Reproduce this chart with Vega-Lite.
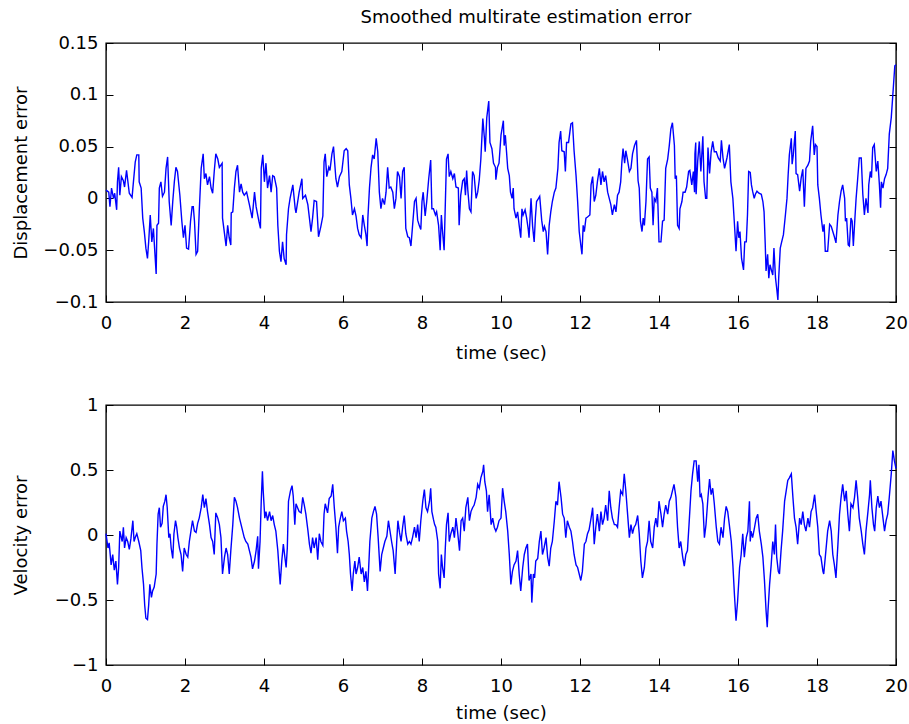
{
  "$schema": "https://vega.github.io/schema/vega-lite/v6.json",
  "background": "white",
  "padding": {"left": 11, "top": 8, "right": 4, "bottom": 4},
  "spacing": 32,
  "config": {
    "font": "DejaVu Sans",
    "view": {"stroke": "black", "strokeWidth": 1.4},
    "axis": {
      "domain": false, "grid": false, "labelFlush": false,
      "tickColor": "black", "tickSize": -7, "tickWidth": 1,
      "labelFont": "DejaVu Sans", "labelFontSize": 18, "labelColor": "black",
      "titleFont": "DejaVu Sans", "titleFontSize": 18, "titleColor": "black", "titleFontWeight": "normal"
    },
    "axisBottom": {"labelPadding": 19},
    "axisLeft": {"labelPadding": 15},
    "title": {"font": "DejaVu Sans", "fontSize": 18, "fontWeight": "normal", "color": "black"}
  },
  "datasets": {
    "disp": [
{"t":0,"v":0.008},{"t":0.07,"v":0.006},{"t":0.10,"v":-0.008},{"t":0.14,"v":0.010},{"t":0.19,"v":0.000},{"t":0.22,"v":0.005},{"t":0.27,"v":-0.011},{"t":0.29,"v":0.016},{"t":0.32,"v":0.030},{"t":0.35,"v":0.003},{"t":0.39,"v":0.021},{"t":0.44,"v":0.017},{"t":0.47,"v":0.011},{"t":0.52,"v":0.027},{"t":0.59,"v":0.005},{"t":0.66,"v":0.001},{"t":0.69,"v":0.014},{"t":0.74,"v":0.035},{"t":0.78,"v":0.042},{"t":0.83,"v":0.042},{"t":0.84,"v":0.016},{"t":0.89,"v":0.010},{"t":0.93,"v":-0.019},{"t":0.97,"v":-0.032},{"t":1.01,"v":-0.048},{"t":1.05,"v":-0.058},{"t":1.08,"v":-0.042},{"t":1.12,"v":-0.016},{"t":1.16,"v":-0.042},{"t":1.20,"v":-0.029},{"t":1.24,"v":-0.054},{"t":1.27,"v":-0.073},{"t":1.29,"v":-0.026},{"t":1.33,"v":-0.024},{"t":1.35,"v":0.010},{"t":1.39,"v":0.016},{"t":1.43,"v":0.002},{"t":1.48,"v":0.006},{"t":1.52,"v":0.029},{"t":1.56,"v":0.040},{"t":1.60,"v":-0.003},{"t":1.65,"v":-0.026},{"t":1.69,"v":-0.003},{"t":1.73,"v":0.016},{"t":1.77,"v":0.030},{"t":1.81,"v":0.026},{"t":1.87,"v":0.003},{"t":1.92,"v":-0.022},{"t":1.96,"v":-0.038},{"t":2.00,"v":-0.026},{"t":2.04,"v":-0.048},{"t":2.09,"v":-0.049},{"t":2.14,"v":-0.022},{"t":2.18,"v":-0.008},{"t":2.21,"v":-0.008},{"t":2.24,"v":-0.022},{"t":2.28,"v":-0.054},{"t":2.32,"v":-0.051},{"t":2.36,"v":-0.013},{"t":2.41,"v":0.029},{"t":2.46,"v":0.043},{"t":2.49,"v":0.019},{"t":2.53,"v":0.024},{"t":2.57,"v":0.013},{"t":2.62,"v":0.021},{"t":2.66,"v":0.010},{"t":2.70,"v":0.005},{"t":2.74,"v":0.026},{"t":2.78,"v":0.043},{"t":2.83,"v":0.038},{"t":2.87,"v":0.030},{"t":2.94,"v":0.034},{"t":2.95,"v":-0.019},{"t":3.00,"v":-0.034},{"t":3.04,"v":-0.046},{"t":3.08,"v":-0.026},{"t":3.12,"v":-0.038},{"t":3.16,"v":-0.045},{"t":3.17,"v":-0.014},{"t":3.21,"v":-0.013},{"t":3.25,"v":0.010},{"t":3.29,"v":0.026},{"t":3.33,"v":0.032},{"t":3.38,"v":0.006},{"t":3.42,"v":0.014},{"t":3.46,"v":0.006},{"t":3.50,"v":0.003},{"t":3.56,"v":0.006},{"t":3.63,"v":-0.006},{"t":3.70,"v":-0.019},{"t":3.76,"v":0.006},{"t":3.80,"v":-0.008},{"t":3.87,"v":-0.022},{"t":3.91,"v":-0.029},{"t":3.93,"v":0.029},{"t":3.97,"v":0.042},{"t":4.01,"v":0.016},{"t":4.05,"v":0.034},{"t":4.09,"v":0.010},{"t":4.14,"v":0.022},{"t":4.18,"v":0.006},{"t":4.22,"v":0.022},{"t":4.26,"v":0.021},{"t":4.32,"v":0.010},{"t":4.35,"v":-0.026},{"t":4.39,"v":-0.051},{"t":4.43,"v":-0.061},{"t":4.47,"v":-0.042},{"t":4.51,"v":-0.058},{"t":4.56,"v":-0.064},{"t":4.57,"v":-0.035},{"t":4.62,"v":-0.010},{"t":4.66,"v":0.000},{"t":4.73,"v":0.013},{"t":4.79,"v":-0.010},
{"t":4.81,"v":-0.014},{"t":4.89,"v":0.006},{"t":4.96,"v":0.019},{"t":4.98,"v":0.000},{"t":5.05,"v":0.003},{"t":5.11,"v":-0.006},{"t":5.15,"v":-0.019},{"t":5.19,"v":-0.032},{"t":5.23,"v":-0.019},{"t":5.27,"v":-0.002},{"t":5.33,"v":-0.003},{"t":5.38,"v":-0.037},{"t":5.44,"v":-0.027},{"t":5.49,"v":-0.017},{"t":5.52,"v":0.035},{"t":5.55,"v":0.043},{"t":5.59,"v":0.021},{"t":5.64,"v":0.030},{"t":5.67,"v":0.027},{"t":5.72,"v":0.043},{"t":5.76,"v":0.050},{"t":5.79,"v":0.034},{"t":5.82,"v":0.019},{"t":5.86,"v":0.011},{"t":5.91,"v":0.021},{"t":5.97,"v":0.026},{"t":6.03,"v":0.046},{"t":6.08,"v":0.048},{"t":6.12,"v":0.046},{"t":6.16,"v":0.013},{"t":6.20,"v":0.000},{"t":6.24,"v":-0.016},{"t":6.29,"v":-0.010},{"t":6.33,"v":-0.017},{"t":6.37,"v":-0.029},{"t":6.41,"v":-0.035},{"t":6.46,"v":-0.038},{"t":6.50,"v":-0.016},{"t":6.54,"v":-0.026},{"t":6.58,"v":-0.035},{"t":6.61,"v":-0.046},{"t":6.63,"v":-0.019},{"t":6.67,"v":0.010},{"t":6.71,"v":0.030},{"t":6.75,"v":0.042},{"t":6.79,"v":0.038},{"t":6.84,"v":0.058},{"t":6.88,"v":0.045},{"t":6.92,"v":0.006},{"t":6.96,"v":-0.010},{"t":7.00,"v":0.000},{"t":7.05,"v":-0.006},{"t":7.09,"v":0.006},{"t":7.13,"v":0.030},{"t":7.17,"v":0.010},{"t":7.21,"v":0.011},{"t":7.26,"v":0.006},{"t":7.30,"v":-0.010},{"t":7.34,"v":0.000},{"t":7.38,"v":0.026},{"t":7.43,"v":0.021},{"t":7.47,"v":0.000},{"t":7.51,"v":0.026},{"t":7.55,"v":0.030},{"t":7.59,"v":-0.029},{"t":7.64,"v":-0.037},{"t":7.68,"v":-0.038},{"t":7.72,"v":-0.046},{"t":7.76,"v":-0.027},{"t":7.81,"v":-0.003},{"t":7.85,"v":0.000},{"t":7.89,"v":-0.021},{"t":7.93,"v":-0.026},{"t":7.97,"v":-0.030},{"t":8.00,"v":-0.003},{"t":8.03,"v":0.006},{"t":8.08,"v":-0.017},{"t":8.12,"v":-0.003},{"t":8.17,"v":0.019},{"t":8.22,"v":0.037},{"t":8.25,"v":-0.010},{"t":8.29,"v":-0.010},{"t":8.34,"v":-0.016},{"t":8.37,"v":-0.013},{"t":8.42,"v":-0.026},{"t":8.46,"v":-0.050},{"t":8.49,"v":-0.016},{"t":8.52,"v":-0.032},{"t":8.56,"v":-0.050},{"t":8.59,"v":-0.006},{"t":8.62,"v":0.038},{"t":8.66,"v":0.043},{"t":8.69,"v":0.021},{"t":8.73,"v":0.026},{"t":8.78,"v":0.019},{"t":8.82,"v":0.024},{"t":8.86,"v":0.011},{"t":8.92,"v":0.010},{"t":8.94,"v":-0.026},{"t":8.98,"v":0.003},{"t":9.03,"v":0.017},{"t":9.07,"v":0.019},{"t":9.10,"v":0.003},{"t":9.13,"v":0.027},{"t":9.16,"v":0.008},{"t":9.20,"v":-0.010},{"t":9.24,"v":-0.013},{"t":9.28,"v":0.026},{"t":9.32,"v":0.022},{"t":9.37,"v":0.000},{"t":9.41,"v":0.006},{"t":9.45,"v":0.018},{"t":9.49,"v":0.038},{"t":9.54,"v":0.077},{"t":9.58,"v":0.058},{"t":9.60,"v":0.045},{"t":9.64,"v":0.078},{"t":9.69,"v":0.094},{"t":9.72,"v":0.054},{"t":9.77,"v":0.048},{"t":9.81,"v":0.034},{"t":9.86,"v":0.030},
{"t":9.87,"v":0.018},{"t":9.91,"v":0.030},{"t":9.95,"v":0.034},{"t":10.00,"v":0.061},{"t":10.06,"v":0.075},{"t":10.08,"v":0.051},{"t":10.11,"v":0.061},{"t":10.14,"v":0.045},{"t":10.17,"v":0.029},{"t":10.21,"v":0.022},{"t":10.24,"v":0.006},{"t":10.28,"v":0.000},{"t":10.31,"v":0.010},{"t":10.33,"v":-0.010},{"t":10.38,"v":-0.019},{"t":10.42,"v":-0.013},{"t":10.46,"v":-0.026},{"t":10.50,"v":-0.038},{"t":10.53,"v":-0.010},{"t":10.56,"v":-0.016},{"t":10.61,"v":-0.011},{"t":10.65,"v":-0.019},{"t":10.69,"v":-0.030},{"t":10.71,"v":-0.038},{"t":10.76,"v":0.000},{"t":10.80,"v":-0.027},{"t":10.84,"v":-0.042},{"t":10.87,"v":-0.019},{"t":10.90,"v":-0.003},{"t":10.95,"v":0.000},{"t":10.98,"v":0.002},{"t":11.03,"v":-0.021},{"t":11.07,"v":-0.032},{"t":11.10,"v":-0.027},{"t":11.14,"v":-0.032},{"t":11.18,"v":-0.054},{"t":11.22,"v":-0.026},{"t":11.26,"v":-0.013},{"t":11.30,"v":-0.003},{"t":11.35,"v":0.006},{"t":11.39,"v":0.010},{"t":11.44,"v":0.029},{"t":11.47,"v":0.054},{"t":11.51,"v":0.065},{"t":11.54,"v":0.046},{"t":11.60,"v":0.045},{"t":11.63,"v":0.026},{"t":11.66,"v":0.054},{"t":11.71,"v":0.054},{"t":11.77,"v":0.072},{"t":11.81,"v":0.073},{"t":11.85,"v":0.046},{"t":11.90,"v":0.022},{"t":11.94,"v":-0.003},{"t":11.98,"v":-0.032},{"t":12.02,"v":-0.045},{"t":12.05,"v":-0.054},{"t":12.08,"v":-0.026},{"t":12.11,"v":-0.032},{"t":12.15,"v":-0.019},{"t":12.19,"v":-0.018},{"t":12.25,"v":-0.016},{"t":12.28,"v":0.013},{"t":12.32,"v":0.021},{"t":12.36,"v":-0.003},{"t":12.40,"v":0.003},{"t":12.44,"v":0.016},{"t":12.49,"v":0.029},{"t":12.53,"v":0.013},{"t":12.57,"v":0.026},{"t":12.61,"v":0.016},{"t":12.65,"v":0.022},{"t":12.70,"v":0.006},{"t":12.74,"v":0.000},{"t":12.78,"v":-0.006},{"t":12.82,"v":-0.016},{"t":12.87,"v":-0.006},{"t":12.91,"v":-0.013},{"t":12.95,"v":0.003},{"t":12.99,"v":0.006},{"t":13.03,"v":0.016},{"t":13.06,"v":0.035},{"t":13.09,"v":0.048},{"t":13.13,"v":0.034},{"t":13.16,"v":0.046},{"t":13.20,"v":0.038},{"t":13.25,"v":0.026},{"t":13.29,"v":0.029},{"t":13.33,"v":0.043},{"t":13.38,"v":0.051},{"t":13.43,"v":0.056},{"t":13.47,"v":0.017},{"t":13.50,"v":0.010},{"t":13.53,"v":-0.022},{"t":13.57,"v":-0.032},{"t":13.60,"v":-0.019},{"t":13.63,"v":-0.026},{"t":13.67,"v":-0.003},{"t":13.71,"v":0.038},{"t":13.75,"v":0.040},{"t":13.78,"v":0.010},{"t":13.82,"v":0.006},{"t":13.85,"v":-0.026},{"t":13.88,"v":0.000},{"t":13.92,"v":-0.003},{"t":13.96,"v":0.010},{"t":14.00,"v":-0.042},{"t":14.05,"v":-0.042},{"t":14.09,"v":-0.022},{"t":14.13,"v":-0.021},{"t":14.17,"v":0.029},{"t":14.22,"v":0.038},{"t":14.26,"v":0.051},{"t":14.30,"v":0.067},{"t":14.34,"v":0.073},{"t":14.39,"v":0.051},{"t":14.41,"v":0.019},{"t":14.44,"v":0.022},{"t":14.47,"v":-0.026},{"t":14.51,"v":-0.029},{"t":14.53,"v":-0.010},{"t":14.58,"v":-0.003},{"t":14.61,"v":0.006},{"t":14.66,"v":0.006},{"t":14.70,"v":0.011},{"t":14.75,"v":0.026},{"t":14.78,"v":0.027},{"t":14.83,"v":0.013},{"t":14.87,"v":0.026},{"t":14.90,"v":0.006},{"t":14.91,"v":0.043},{"t":14.93,"v":0.054},
{"t":14.94,"v":0.004},{"t":14.98,"v":0.036},{"t":15.02,"v":0.055},{"t":15.06,"v":0.026},{"t":15.11,"v":0.060},{"t":15.14,"v":0.016},{"t":15.18,"v":0.000},{"t":15.21,"v":0.000},{"t":15.24,"v":0.049},{"t":15.28,"v":0.024},{"t":15.32,"v":0.045},{"t":15.36,"v":0.055},{"t":15.40,"v":0.045},{"t":15.45,"v":0.045},{"t":15.50,"v":0.039},{"t":15.55,"v":0.036},{"t":15.58,"v":0.056},{"t":15.62,"v":0.039},{"t":15.66,"v":0.029},{"t":15.72,"v":0.039},{"t":15.78,"v":0.052},{"t":15.82,"v":0.016},{"t":15.87,"v":0.000},{"t":15.91,"v":-0.025},{"t":15.95,"v":-0.051},{"t":15.99,"v":-0.022},{"t":16.02,"v":-0.038},{"t":16.05,"v":-0.032},{"t":16.09,"v":-0.058},{"t":16.14,"v":-0.069},{"t":16.17,"v":-0.042},{"t":16.21,"v":-0.042},{"t":16.24,"v":-0.016},{"t":16.27,"v":0.026},{"t":16.31,"v":0.025},{"t":16.34,"v":0.013},{"t":16.37,"v":0.007},{"t":16.41,"v":0.000},{"t":16.44,"v":0.004},{"t":16.48,"v":0.007},{"t":16.53,"v":0.005},{"t":16.59,"v":0.004},{"t":16.63,"v":-0.003},{"t":16.66,"v":-0.013},{"t":16.69,"v":-0.045},{"t":16.71,"v":-0.070},{"t":16.75,"v":-0.054},{"t":16.78,"v":-0.077},{"t":16.81,"v":-0.064},{"t":16.85,"v":-0.070},{"t":16.88,"v":-0.074},{"t":16.91,"v":-0.048},{"t":16.95,"v":-0.077},{"t":16.98,"v":-0.087},{"t":17.01,"v":-0.098},{"t":17.03,"v":-0.077},{"t":17.07,"v":-0.048},{"t":17.10,"v":-0.043},{"t":17.15,"v":-0.035},{"t":17.20,"v":-0.016},{"t":17.24,"v":0.000},{"t":17.27,"v":0.023},{"t":17.30,"v":0.042},{"t":17.35,"v":0.058},{"t":17.37,"v":0.033},{"t":17.40,"v":0.042},{"t":17.45,"v":0.065},{"t":17.47,"v":0.024},{"t":17.51,"v":0.023},{"t":17.56,"v":0.007},{"t":17.60,"v":0.020},{"t":17.64,"v":0.028},{"t":17.68,"v":-0.008},{"t":17.72,"v":0.029},{"t":17.77,"v":0.032},{"t":17.81,"v":0.036},{"t":17.84,"v":0.055},{"t":17.89,"v":0.070},{"t":17.93,"v":0.042},{"t":17.96,"v":0.052},{"t":18.00,"v":0.050},{"t":18.02,"v":0.013},{"t":18.06,"v":0.000},{"t":18.10,"v":-0.016},{"t":18.15,"v":-0.032},{"t":18.18,"v":-0.025},{"t":18.21,"v":-0.051},{"t":18.27,"v":-0.051},{"t":18.32,"v":-0.025},{"t":18.36,"v":-0.027},{"t":18.40,"v":-0.032},{"t":18.44,"v":-0.037},{"t":18.48,"v":-0.043},{"t":18.53,"v":-0.016},{"t":18.57,"v":-0.003},{"t":18.61,"v":0.007},{"t":18.65,"v":0.013},{"t":18.70,"v":0.000},{"t":18.72,"v":-0.022},{"t":18.75,"v":-0.019},{"t":18.79,"v":-0.045},{"t":18.82,"v":-0.046},{"t":18.86,"v":-0.019},{"t":18.89,"v":-0.022},{"t":18.92,"v":-0.046},{"t":18.96,"v":-0.019},{"t":18.99,"v":0.000},{"t":19.03,"v":0.019},{"t":19.07,"v":0.039},{"t":19.12,"v":0.039},{"t":19.16,"v":0.004},{"t":19.20,"v":-0.016},{"t":19.24,"v":0.000},{"t":19.29,"v":-0.014},{"t":19.31,"v":0.013},{"t":19.35,"v":0.026},{"t":19.38,"v":0.020},{"t":19.41,"v":0.049},{"t":19.45,"v":0.052},{"t":19.50,"v":0.026},{"t":19.54,"v":0.036},{"t":19.58,"v":0.013},{"t":19.61,"v":-0.009},{"t":19.63,"v":0.016},{"t":19.67,"v":0.010},{"t":19.71,"v":0.019},{"t":19.75,"v":0.023},{"t":19.79,"v":0.029},{"t":19.83,"v":0.062},{"t":19.88,"v":0.078},{"t":19.92,"v":0.100},{"t":19.97,"v":0.128},{"t":20.00,"v":0.129}
    ],
    "vel": [
{"t":0,"v":0.01},{"t":0.05,"v":-0.10},{"t":0.08,"v":-0.06},{"t":0.13,"v":-0.23},{"t":0.17,"v":-0.15},{"t":0.21,"v":-0.27},{"t":0.25,"v":-0.20},{"t":0.29,"v":-0.38},{"t":0.32,"v":-0.25},{"t":0.35,"v":0.03},{"t":0.41,"v":-0.05},{"t":0.44,"v":0.06},{"t":0.47,"v":-0.10},{"t":0.51,"v":-0.02},{"t":0.55,"v":-0.05},{"t":0.59,"v":-0.11},{"t":0.63,"v":-0.03},{"t":0.68,"v":0.11},{"t":0.71,"v":-0.05},{"t":0.74,"v":-0.02},{"t":0.78,"v":0.01},{"t":0.83,"v":-0.05},{"t":0.88,"v":-0.12},{"t":0.91,"v":-0.25},{"t":0.95,"v":-0.38},{"t":0.98,"v":-0.54},{"t":1.01,"v":-0.64},{"t":1.05,"v":-0.65},{"t":1.08,"v":-0.54},{"t":1.11,"v":-0.38},{"t":1.15,"v":-0.48},{"t":1.18,"v":-0.43},{"t":1.22,"v":-0.40},{"t":1.27,"v":-0.30},{"t":1.29,"v":-0.07},{"t":1.32,"v":0.16},{"t":1.35,"v":0.21},{"t":1.38,"v":0.06},{"t":1.42,"v":0.09},{"t":1.45,"v":0.22},{"t":1.49,"v":0.26},{"t":1.52,"v":0.31},{"t":1.55,"v":0.21},{"t":1.59,"v":-0.02},{"t":1.62,"v":0.01},{"t":1.65,"v":-0.10},{"t":1.69,"v":-0.18},{"t":1.72,"v":0.01},{"t":1.76,"v":0.11},{"t":1.79,"v":0.06},{"t":1.82,"v":-0.02},{"t":1.86,"v":-0.10},{"t":1.90,"v":-0.15},{"t":1.94,"v":-0.28},{"t":1.98,"v":-0.10},{"t":2.03,"v":-0.15},{"t":2.07,"v":-0.17},{"t":2.11,"v":-0.05},{"t":2.15,"v":0.03},{"t":2.19,"v":0.11},{"t":2.24,"v":0.03},{"t":2.28,"v":0.02},{"t":2.32,"v":0.09},{"t":2.36,"v":0.13},{"t":2.41,"v":0.21},{"t":2.45,"v":0.31},{"t":2.49,"v":0.21},{"t":2.53,"v":0.28},{"t":2.57,"v":0.18},{"t":2.62,"v":0.08},{"t":2.66,"v":-0.02},{"t":2.70,"v":-0.05},{"t":2.74,"v":-0.15},{"t":2.78,"v":0.17},{"t":2.83,"v":0.13},{"t":2.87,"v":0.08},{"t":2.91,"v":-0.02},{"t":2.95,"v":-0.30},{"t":3.00,"v":-0.17},{"t":3.04,"v":-0.10},{"t":3.08,"v":-0.15},{"t":3.12,"v":-0.30},{"t":3.16,"v":-0.12},{"t":3.21,"v":0.08},{"t":3.25,"v":0.29},{"t":3.29,"v":0.26},{"t":3.33,"v":0.21},{"t":3.38,"v":0.13},{"t":3.42,"v":0.08},{"t":3.46,"v":0.03},{"t":3.50,"v":-0.02},{"t":3.54,"v":-0.05},{"t":3.59,"v":-0.07},{"t":3.63,"v":-0.12},{"t":3.67,"v":-0.17},{"t":3.71,"v":-0.26},{"t":3.76,"v":-0.20},{"t":3.80,"v":-0.12},{"t":3.84,"v":-0.01},{"t":3.86,"v":-0.26},{"t":3.90,"v":-0.05},{"t":3.93,"v":0.26},{"t":3.96,"v":0.49},{"t":3.98,"v":0.34},{"t":4.02,"v":0.13},{"t":4.05,"v":0.18},{"t":4.09,"v":0.11},{"t":4.14,"v":0.18},{"t":4.18,"v":0.11},{"t":4.22,"v":0.15},{"t":4.26,"v":0.08},{"t":4.30,"v":0.03},{"t":4.35,"v":-0.12},{"t":4.39,"v":-0.30},{"t":4.41,"v":-0.38},{"t":4.45,"v":-0.20},{"t":4.49,"v":-0.07},{"t":4.52,"v":-0.15},{"t":4.56,"v":-0.25},{"t":4.59,"v":-0.10},{"t":4.62,"v":0.26},{"t":4.67,"v":0.34},{"t":4.71,"v":0.38},{"t":4.74,"v":0.30},{"t":4.78,"v":0.08},{"t":4.81,"v":0.24},{"t":4.85,"v":0.21},{"t":4.89,"v":0.18},
{"t":4.94,"v":0.17},{"t":4.98,"v":0.29},{"t":5.02,"v":0.23},{"t":5.06,"v":0.16},{"t":5.11,"v":0.04},{"t":5.15,"v":-0.07},{"t":5.19,"v":-0.14},{"t":5.23,"v":-0.02},{"t":5.27,"v":-0.10},{"t":5.32,"v":-0.02},{"t":5.36,"v":-0.19},{"t":5.40,"v":0.01},{"t":5.44,"v":-0.05},{"t":5.49,"v":-0.08},{"t":5.52,"v":0.16},{"t":5.55,"v":0.24},{"t":5.61,"v":0.17},{"t":5.65,"v":0.28},{"t":5.70,"v":0.30},{"t":5.74,"v":0.39},{"t":5.78,"v":0.21},{"t":5.82,"v":0.06},{"t":5.86,"v":-0.14},{"t":5.89,"v":0.06},{"t":5.92,"v":0.11},{"t":5.97,"v":0.18},{"t":6.01,"v":0.11},{"t":6.06,"v":0.13},{"t":6.09,"v":0.03},{"t":6.13,"v":-0.05},{"t":6.16,"v":-0.15},{"t":6.19,"v":-0.30},{"t":6.23,"v":-0.43},{"t":6.26,"v":-0.30},{"t":6.30,"v":-0.20},{"t":6.33,"v":-0.30},{"t":6.37,"v":-0.25},{"t":6.41,"v":-0.17},{"t":6.46,"v":-0.30},{"t":6.50,"v":-0.25},{"t":6.54,"v":-0.36},{"t":6.58,"v":-0.28},{"t":6.62,"v":-0.43},{"t":6.65,"v":-0.25},{"t":6.68,"v":-0.05},{"t":6.73,"v":0.13},{"t":6.77,"v":0.18},{"t":6.81,"v":0.22},{"t":6.85,"v":0.16},{"t":6.89,"v":-0.02},{"t":6.94,"v":-0.28},{"t":6.98,"v":-0.15},{"t":7.02,"v":-0.10},{"t":7.06,"v":-0.05},{"t":7.11,"v":-0.01},{"t":7.15,"v":0.11},{"t":7.19,"v":0.03},{"t":7.23,"v":-0.05},{"t":7.27,"v":-0.12},{"t":7.32,"v":-0.30},{"t":7.36,"v":-0.05},{"t":7.39,"v":0.11},{"t":7.43,"v":0.02},{"t":7.47,"v":-0.05},{"t":7.51,"v":0.06},{"t":7.55,"v":0.15},{"t":7.59,"v":0.01},{"t":7.64,"v":-0.07},{"t":7.68,"v":-0.05},{"t":7.72,"v":-0.07},{"t":7.76,"v":-0.02},{"t":7.81,"v":0.06},{"t":7.85,"v":-0.02},{"t":7.89,"v":0.08},{"t":7.93,"v":-0.05},{"t":7.97,"v":0.11},{"t":8.02,"v":0.26},{"t":8.06,"v":0.35},{"t":8.10,"v":0.21},{"t":8.14,"v":0.18},{"t":8.19,"v":0.26},{"t":8.22,"v":0.36},{"t":8.25,"v":0.18},{"t":8.29,"v":0.12},{"t":8.32,"v":0.08},{"t":8.35,"v":0.06},{"t":8.40,"v":-0.05},{"t":8.42,"v":-0.30},{"t":8.46,"v":-0.41},{"t":8.49,"v":-0.15},{"t":8.52,"v":-0.25},{"t":8.56,"v":-0.33},{"t":8.59,"v":-0.10},{"t":8.62,"v":0.08},{"t":8.66,"v":0.17},{"t":8.69,"v":-0.05},{"t":8.73,"v":0.01},{"t":8.78,"v":0.06},{"t":8.82,"v":-0.02},{"t":8.86,"v":0.13},{"t":8.90,"v":0.03},{"t":8.95,"v":-0.12},{"t":8.99,"v":0.11},{"t":9.03,"v":0.13},{"t":9.07,"v":0.03},{"t":9.11,"v":0.21},{"t":9.16,"v":0.29},{"t":9.20,"v":0.11},{"t":9.24,"v":0.18},{"t":9.28,"v":0.21},{"t":9.32,"v":0.23},{"t":9.37,"v":0.29},{"t":9.41,"v":0.39},{"t":9.45,"v":0.36},{"t":9.49,"v":0.44},{"t":9.54,"v":0.49},{"t":9.56,"v":0.54},{"t":9.59,"v":0.41},{"t":9.63,"v":0.34},{"t":9.66,"v":0.18},{"t":9.70,"v":0.31},{"t":9.75,"v":0.08},{"t":9.79,"v":0.13},{"t":9.83,"v":0.06},
{"t":9.87,"v":0.03},{"t":9.91,"v":0.06},{"t":9.95,"v":0.11},{"t":10.00,"v":0.13},{"t":10.04,"v":0.36},{"t":10.08,"v":0.26},{"t":10.12,"v":0.18},{"t":10.17,"v":0.03},{"t":10.21,"v":-0.15},{"t":10.25,"v":-0.38},{"t":10.29,"v":-0.28},{"t":10.33,"v":-0.23},{"t":10.38,"v":-0.20},{"t":10.42,"v":-0.12},{"t":10.46,"v":-0.30},{"t":10.50,"v":-0.43},{"t":10.55,"v":-0.25},{"t":10.59,"v":-0.15},{"t":10.63,"v":-0.10},{"t":10.67,"v":-0.07},{"t":10.71,"v":-0.35},{"t":10.76,"v":-0.30},{"t":10.78,"v":-0.52},{"t":10.82,"v":-0.30},{"t":10.85,"v":-0.33},{"t":10.88,"v":-0.20},{"t":10.93,"v":-0.18},{"t":10.97,"v":-0.05},{"t":11.01,"v":0.03},{"t":11.05,"v":-0.15},{"t":11.09,"v":-0.10},{"t":11.14,"v":-0.02},{"t":11.18,"v":-0.17},{"t":11.22,"v":-0.24},{"t":11.26,"v":-0.10},{"t":11.30,"v":-0.05},{"t":11.35,"v":0.11},{"t":11.39,"v":0.26},{"t":11.43,"v":0.23},{"t":11.47,"v":0.41},{"t":11.52,"v":0.29},{"t":11.56,"v":0.16},{"t":11.60,"v":0.13},{"t":11.64,"v":-0.02},{"t":11.68,"v":0.11},{"t":11.73,"v":0.06},{"t":11.77,"v":0.03},{"t":11.81,"v":-0.05},{"t":11.85,"v":-0.15},{"t":11.90,"v":-0.23},{"t":11.94,"v":-0.25},{"t":11.98,"v":-0.30},{"t":12.02,"v":-0.35},{"t":12.06,"v":-0.28},{"t":12.11,"v":-0.07},{"t":12.15,"v":-0.05},{"t":12.19,"v":0.01},{"t":12.23,"v":0.04},{"t":12.28,"v":0.13},{"t":12.32,"v":0.21},{"t":12.36,"v":-0.07},{"t":12.40,"v":0.06},{"t":12.44,"v":0.16},{"t":12.49,"v":0.03},{"t":12.53,"v":0.18},{"t":12.57,"v":0.08},{"t":12.61,"v":0.13},{"t":12.65,"v":0.23},{"t":12.70,"v":0.11},{"t":12.74,"v":0.34},{"t":12.78,"v":0.21},{"t":12.82,"v":0.13},{"t":12.87,"v":0.08},{"t":12.91,"v":0.08},{"t":12.95,"v":0.06},{"t":12.99,"v":0.21},{"t":13.03,"v":0.34},{"t":13.08,"v":0.31},{"t":13.12,"v":0.47},{"t":13.16,"v":0.34},{"t":13.20,"v":0.18},{"t":13.25,"v":-0.02},{"t":13.29,"v":0.08},{"t":13.33,"v":0.01},{"t":13.37,"v":0.06},{"t":13.41,"v":0.08},{"t":13.46,"v":0.15},{"t":13.50,"v":0.01},{"t":13.54,"v":-0.20},{"t":13.58,"v":-0.33},{"t":13.63,"v":-0.25},{"t":13.67,"v":-0.10},{"t":13.71,"v":-0.05},{"t":13.75,"v":0.11},{"t":13.79,"v":-0.05},{"t":13.84,"v":-0.10},{"t":13.88,"v":0.06},{"t":13.92,"v":0.13},{"t":13.96,"v":0.06},{"t":14.00,"v":0.26},{"t":14.05,"v":0.16},{"t":14.09,"v":0.06},{"t":14.13,"v":0.16},{"t":14.17,"v":0.23},{"t":14.22,"v":0.16},{"t":14.26,"v":0.26},{"t":14.30,"v":0.29},{"t":14.34,"v":0.34},{"t":14.38,"v":0.39},{"t":14.43,"v":0.29},{"t":14.47,"v":0.06},{"t":14.51,"v":-0.10},{"t":14.55,"v":-0.05},{"t":14.60,"v":-0.17},{"t":14.64,"v":-0.24},{"t":14.68,"v":-0.15},{"t":14.72,"v":-0.12},{"t":14.76,"v":0.08},{"t":14.81,"v":0.34},{"t":14.85,"v":0.47},{"t":14.89,"v":0.57},
{"t":14.94,"v":0.57},{"t":14.98,"v":0.41},{"t":15.01,"v":0.54},{"t":15.04,"v":0.29},{"t":15.07,"v":0.31},{"t":15.11,"v":0.24},{"t":15.15,"v":-0.02},{"t":15.19,"v":0.08},{"t":15.24,"v":0.29},{"t":15.28,"v":0.43},{"t":15.32,"v":0.31},{"t":15.36,"v":0.36},{"t":15.40,"v":0.24},{"t":15.45,"v":0.06},{"t":15.49,"v":-0.05},{"t":15.53,"v":-0.07},{"t":15.57,"v":0.06},{"t":15.62,"v":-0.02},{"t":15.66,"v":0.13},{"t":15.70,"v":0.22},{"t":15.74,"v":0.18},{"t":15.78,"v":0.08},{"t":15.83,"v":-0.05},{"t":15.87,"v":-0.23},{"t":15.91,"v":-0.46},{"t":15.95,"v":-0.66},{"t":15.99,"v":-0.51},{"t":16.04,"v":-0.25},{"t":16.08,"v":-0.15},{"t":16.12,"v":0.01},{"t":16.16,"v":-0.17},{"t":16.21,"v":-0.02},{"t":16.25,"v":0.03},{"t":16.29,"v":0.26},{"t":16.31,"v":-0.05},{"t":16.33,"v":0.03},{"t":16.37,"v":-0.02},{"t":16.42,"v":0.06},{"t":16.46,"v":0.13},{"t":16.50,"v":0.16},{"t":16.54,"v":0.03},{"t":16.59,"v":-0.07},{"t":16.63,"v":-0.17},{"t":16.67,"v":-0.35},{"t":16.71,"v":-0.58},{"t":16.74,"v":-0.71},{"t":16.76,"v":-0.58},{"t":16.80,"v":-0.38},{"t":16.84,"v":-0.23},{"t":16.88,"v":-0.05},{"t":16.92,"v":-0.15},{"t":16.95,"v":0.08},{"t":16.98,"v":-0.17},{"t":17.02,"v":-0.28},{"t":17.05,"v":-0.30},{"t":17.09,"v":-0.12},{"t":17.13,"v":0.03},{"t":17.18,"v":0.26},{"t":17.22,"v":0.34},{"t":17.26,"v":0.42},{"t":17.30,"v":0.44},{"t":17.35,"v":0.47},{"t":17.39,"v":0.29},{"t":17.43,"v":0.13},{"t":17.47,"v":0.06},{"t":17.51,"v":-0.07},{"t":17.56,"v":0.13},{"t":17.60,"v":0.08},{"t":17.64,"v":0.18},{"t":17.68,"v":0.08},{"t":17.72,"v":0.03},{"t":17.77,"v":0.13},{"t":17.81,"v":0.06},{"t":17.85,"v":0.18},{"t":17.89,"v":0.21},{"t":17.94,"v":0.31},{"t":17.98,"v":0.18},{"t":18.02,"v":0.06},{"t":18.06,"v":-0.15},{"t":18.10,"v":-0.17},{"t":18.15,"v":-0.28},{"t":18.17,"v":-0.30},{"t":18.21,"v":-0.17},{"t":18.27,"v":0.03},{"t":18.32,"v":0.11},{"t":18.36,"v":0.03},{"t":18.40,"v":-0.15},{"t":18.44,"v":-0.23},{"t":18.48,"v":-0.33},{"t":18.53,"v":-0.07},{"t":18.57,"v":0.16},{"t":18.61,"v":0.29},{"t":18.65,"v":0.39},{"t":18.70,"v":0.26},{"t":18.74,"v":0.34},{"t":18.78,"v":0.16},{"t":18.82,"v":0.03},{"t":18.86,"v":0.24},{"t":18.91,"v":0.21},{"t":18.95,"v":0.29},{"t":18.99,"v":0.42},{"t":19.03,"v":0.29},{"t":19.07,"v":0.13},{"t":19.12,"v":0.03},{"t":19.16,"v":-0.07},{"t":19.20,"v":-0.15},{"t":19.24,"v":0.03},{"t":19.29,"v":0.18},{"t":19.33,"v":0.31},{"t":19.35,"v":0.42},{"t":19.39,"v":0.21},{"t":19.43,"v":0.08},{"t":19.46,"v":0.03},{"t":19.50,"v":0.21},{"t":19.54,"v":0.30},{"t":19.58,"v":0.21},{"t":19.62,"v":0.26},{"t":19.67,"v":0.13},{"t":19.71,"v":0.03},{"t":19.75,"v":0.11},{"t":19.79,"v":0.16},{"t":19.83,"v":0.29},{"t":19.88,"v":0.47},{"t":19.92,"v":0.65},{"t":19.96,"v":0.57},{"t":20.00,"v":0.51}
    ]
  },
  "vconcat": [
    {
      "title": {"text": "Smoothed multirate estimation error", "anchor": "middle", "offset": 7, "dx": 25},
      "width": 790, "height": 259,
      "data": {"name": "disp"},
      "layer": [
        {
          "mark": {"type": "line", "color": "#0000ff", "strokeWidth": 1.4},
          "encoding": {
            "x": {"field": "t", "type": "quantitative", "scale": {"domain": [0, 20], "nice": false},
                  "axis": {"title": "time (sec)", "values": [0,2,4,6,8,10,12,14,16,18,20], "titleY": 51, "titleBaseline": "middle"}},
            "y": {"field": "v", "type": "quantitative", "scale": {"domain": [-0.1, 0.15], "nice": false, "zero": false},
                  "axis": {"title": "Displacement error", "values": [-0.1,-0.05,0,0.05,0.1,0.15], "format": ".2~f", "titleX": -85, "titleY": 129.5, "titleBaseline": "middle"}}
          }
        },
        {
          "mark": {"type": "line", "opacity": 0},
          "encoding": {
            "x": {"field": "t", "type": "quantitative", "axis": {"orient": "top", "labels": false, "title": null, "values": [0,2,4,6,8,10,12,14,16,18,20]}},
            "y": {"field": "v", "type": "quantitative", "axis": {"orient": "right", "labels": false, "title": null, "values": [-0.1,-0.05,0,0.05,0.1,0.15]}}
          }
        }
      ],
      "resolve": {"axis": {"x": "independent", "y": "independent"}}
    },
    {
      "width": 790, "height": 260,
      "data": {"name": "vel"},
      "layer": [
        {
          "mark": {"type": "line", "color": "#0000ff", "strokeWidth": 1.4},
          "encoding": {
            "x": {"field": "t", "type": "quantitative", "scale": {"domain": [0, 20], "nice": false},
                  "axis": {"title": "time (sec)", "values": [0,2,4,6,8,10,12,14,16,18,20], "titleY": 48, "titleBaseline": "middle"}},
            "y": {"field": "v", "type": "quantitative", "scale": {"domain": [-1, 1], "nice": false, "zero": false},
                  "axis": {"title": "Velocity error", "values": [-1,-0.5,0,0.5,1], "format": ".1~f", "titleX": -85, "titleY": 130, "titleBaseline": "middle"}}
          }
        },
        {
          "mark": {"type": "line", "opacity": 0},
          "encoding": {
            "x": {"field": "t", "type": "quantitative", "axis": {"orient": "top", "labels": false, "title": null, "values": [0,2,4,6,8,10,12,14,16,18,20]}},
            "y": {"field": "v", "type": "quantitative", "axis": {"orient": "right", "labels": false, "title": null, "values": [-1,-0.5,0,0.5,1]}}
          }
        }
      ],
      "resolve": {"axis": {"x": "independent", "y": "independent"}}
    }
  ]
}
